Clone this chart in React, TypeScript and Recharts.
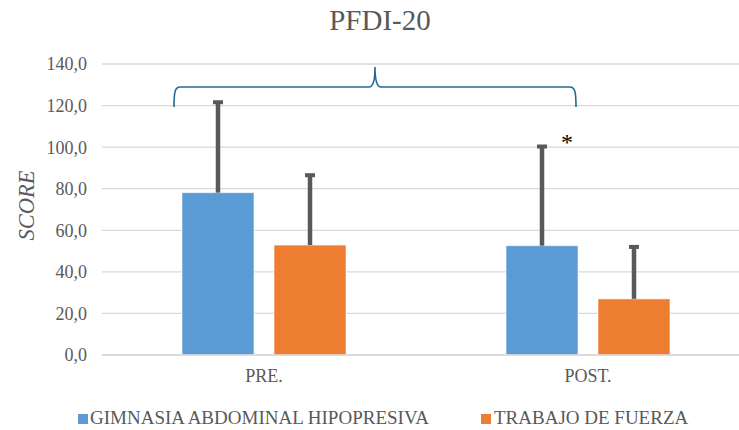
import React from "react";
import { BarChart, Bar, XAxis, YAxis, CartesianGrid, Customized } from "recharts";

const categories = ["PRE.", "POST."];
const hipopresivaMean = [78.1, 52.6];
const hipopresivaSd = [43.5, 47.7];
const fuerzaMean = [52.9, 27.0];
const fuerzaSd = [33.6, 25.0];
const yTicks = [0, 20, 40, 60, 80, 100, 120, 140];

const seriesNames = ["GIMNASIA ABDOMINAL HIPOPRESIVA", "TRABAJO DE FUERZA"];
const BLUE = "#5B9BD5";
const ORANGE = "#ED7D31";
const TEXT = "#595959";
const FONT = "'Liberation Serif', 'Times New Roman', serif";

const data = categories.map((c, i) => ({
  name: c,
  hipo: hipopresivaMean[i],
  hipoSd: hipopresivaSd[i],
  fuerza: fuerzaMean[i],
  fuerzaSd: fuerzaSd[i],
}));

// bar + upper error whisker only (like the Excel original)
const makeShape = (sdKey: string, valueKey: string) => (props: any) => {
  const { x, y, width, height, fill, payload } = props;
  const value = payload[valueKey];
  const sd = payload[sdKey];
  const pxPerUnit = height / value;
  const cx = x + width / 2;
  const top = y - sd * pxPerUnit;
  return (
    <g>
      <rect x={x} y={y} width={width} height={height} fill={fill} stroke="#ffffff" strokeOpacity={0.6} strokeWidth={1} />
      <line x1={cx} x2={cx} y1={y} y2={top} stroke={TEXT} strokeWidth={4.5} />
      <rect x={cx - 5} y={top - 2} width={10} height={4} fill={TEXT} />
    </g>
  );
};

const ScoreLabel = ({ viewBox }: any) => {
  const cx = viewBox.x + 26;
  const cy = viewBox.y + viewBox.height / 2 - 4;
  return (
    <text
      x={cx}
      y={cy}
      transform={`rotate(-90 ${cx} ${cy})`}
      textAnchor="middle"
      dominantBaseline="central"
      fill={TEXT}
      fontSize={22.5}
      fontFamily={FONT}
      fontStyle="italic"
    >
      SCORE
    </text>
  );
};

const Annotations = () => (
  <g>
    <path
      d="M174,107 C174,92 175,87 180,87 L369,87 C373,87 375,80 375,67 C375,80 377,87 381,87 L570,87 C575,87 576,92 576,107"
      fill="none"
      stroke="#24698F"
      strokeWidth={1.6}
    />
    <text x={567} y={150} textAnchor="middle" fontSize={24} fontFamily={FONT} fill="#000">
      *
    </text>
  </g>
);

export default function App() {
  return (
    <div style={{ position: "absolute", left: 0, top: 0, width: 739, height: 430, overflow: "hidden", background: "#fff" }}>
      <div
        style={{
          position: "absolute",
          left: 0,
          width: 760,
          top: 4,
          textAlign: "center",
          fontFamily: FONT,
          fontSize: 29,
          color: TEXT,
        }}
      >
        PFDI-20
      </div>
      <BarChart
        width={752}
        height={430}
        data={data}
        margin={{ top: 64, right: 2, bottom: 0, left: 0 }}
        barSize={72}
        barGap={20}
      >
        <CartesianGrid vertical={false} stroke="#d9d9d9" strokeWidth={1.3} />
        <XAxis
          dataKey="name"
          height={75}
          axisLine={{ stroke: "#d9d9d9", strokeWidth: 1.3 }}
          tickLine={false}
          tickSize={0}
          tickMargin={14}
          tick={{ fill: TEXT, fontSize: 18, fontFamily: FONT }}
        />
        <YAxis
          width={102}
          domain={[0, 140]}
          ticks={yTicks}
          interval={0}
          axisLine={false}
          tickLine={false}
          tickSize={0}
          tickMargin={15}
          tickFormatter={(v: number) => v.toFixed(1).replace(".", ",")}
          tick={{ fill: TEXT, fontSize: 18, fontFamily: FONT }}
          label={<ScoreLabel />}
        />
        <Bar dataKey="hipo" name={seriesNames[0]} fill={BLUE} isAnimationActive={false} shape={makeShape("hipoSd", "hipo")} />
        <Bar dataKey="fuerza" name={seriesNames[1]} fill={ORANGE} isAnimationActive={false} shape={makeShape("fuerzaSd", "fuerza")} />
        <Customized component={<Annotations />} />
      </BarChart>
      <div style={{ position: "absolute", top: 407, left: 78, fontFamily: FONT, fontSize: 19, color: TEXT, whiteSpace: "nowrap" }}>
        <span style={{ display: "inline-block", width: 10, height: 10, background: BLUE, marginRight: 2 }} />
        {seriesNames[0]}
      </div>
      <div style={{ position: "absolute", top: 407, left: 481, fontFamily: FONT, fontSize: 19, color: TEXT, whiteSpace: "nowrap" }}>
        <span style={{ display: "inline-block", width: 10, height: 10, background: ORANGE, marginRight: 3 }} />
        {seriesNames[1]}
      </div>
    </div>
  );
}
